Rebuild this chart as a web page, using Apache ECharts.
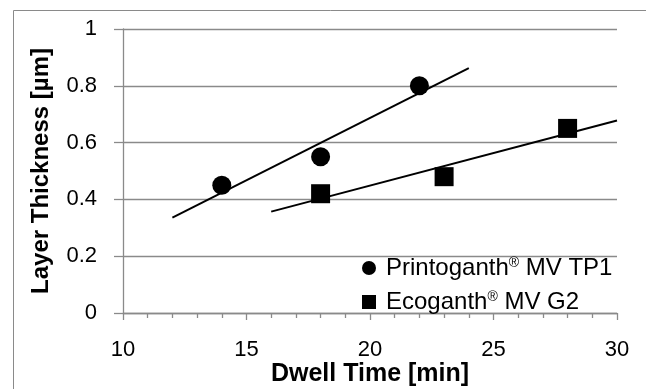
<!DOCTYPE html>
<html lang="en">
<head>
    <meta charset="UTF-8">
    <title>Layer Thickness vs Dwell Time</title>
    <script src="https://cdn.jsdelivr.net/npm/echarts@6/dist/echarts.min.js"></script>
    <style>
        html, body { margin: 0; padding: 0; background: #fff; }
    </style>
</head>
<body>
    <div id="chart" style="width: 646px; height: 389px;"></div>
    <script>
        // data
        const seriesNames = ["Printoganth® MV TP1", "Ecoganth® MV G2"];
        const dwellA = [14, 18, 22];
        const thickA = [0.45, 0.55, 0.80];
        const dwellB = [18, 23, 28];
        const thickB = [0.42, 0.48, 0.65];
        // trend line end points (as drawn)
        const trendA = [[12, 0.336], [24, 0.862]];
        const trendB = [[16, 0.357], [30, 0.678]];

        const font = "Liberation Sans";
        const grey = "#8a8a8a";

        const pairs = (xs, ys) => xs.map((x, i) => [x, ys[i]]);

        var myChart = echarts.init(document.getElementById("chart"));

        const option = {
            backgroundColor: "#fff",
            animation: false,
            textStyle: { fontFamily: font },
            graphic: [{
                type: "rect",
                shape: { x: 13.5, y: 10.5, width: 700, height: 500 },
                style: { fill: "none", stroke: grey, lineWidth: 1 },
                silent: true
            }],
            grid: { left: 123, right: 29, top: 29, bottom: 76, containLabel: false, outerBoundsMode: "none" },
            legend: {
                orient: "vertical",
                left: 357,
                top: 251,
                itemWidth: 14,
                itemHeight: 14,
                itemGap: 10,
                data: seriesNames,
                formatter: function (name) {
                    return name.replace("®", "{r|®}");
                },
                textStyle: {
                    fontFamily: font,
                    fontSize: 24,
                    color: "#000",
                    padding: [0, 0, 0, 5],
                    rich: {
                        r: { fontSize: 14, padding: [0, 0, 9, 0], fontFamily: font, color: "#000" }
                    }
                }
            },
            xAxis: {
                type: "value",
                min: 10,
                max: 30,
                interval: 5,
                name: "Dwell Time [min]",
                nameLocation: "middle",
                nameGap: 49,
                nameMoveOverlap: false,
                nameTextStyle: { fontSize: 25, fontWeight: "bold", color: "#000", fontFamily: font },
                axisLine: { show: true, lineStyle: { color: grey, width: 1.3 } },
                axisTick: { show: true, length: 7, lineStyle: { color: grey, width: 1.3 } },
                minorTick: { show: true, splitNumber: 5, length: 5, lineStyle: { color: grey, width: 1.3 } },
                axisLabel: { fontSize: 22, color: "#000", margin: 26 },
                splitLine: { show: false }
            },
            yAxis: {
                type: "value",
                min: 0,
                max: 1,
                interval: 0.2,
                name: "Layer Thickness [µm]",
                nameLocation: "middle",
                nameGap: 70,
                nameMoveOverlap: false,
                nameTextStyle: { fontSize: 24, fontWeight: "bold", color: "#000", fontFamily: font },
                axisLine: { show: true, lineStyle: { color: grey, width: 1.3 } },
                axisTick: { show: true, inside: false, length: 9, lineStyle: { color: grey, width: 1.3 } },
                axisLabel: { fontSize: 22, color: "#000", margin: 26 },
                splitLine: { show: true, lineStyle: { color: grey, width: 1.3 } }
            },
            series: [{
                name: "trendA",
                type: "line",
                data: trendA,
                symbol: "none",
                lineStyle: { color: "#000", width: 2 },
                silent: true,
                z: 2
            }, {
                name: "trendB",
                type: "line",
                data: trendB,
                symbol: "none",
                lineStyle: { color: "#000", width: 2 },
                silent: true,
                z: 2
            }, {
                name: seriesNames[0],
                type: "scatter",
                data: pairs(dwellA, thickA),
                symbol: "circle",
                symbolSize: 19,
                itemStyle: { color: "#000", opacity: 1 },
                z: 3
            }, {
                name: seriesNames[1],
                type: "scatter",
                data: pairs(dwellB, thickB),
                symbol: "rect",
                symbolSize: 19,
                itemStyle: { color: "#000", opacity: 1 },
                z: 3
            }]
        };

        myChart.setOption(option);
    </script>
</body>
</html>
